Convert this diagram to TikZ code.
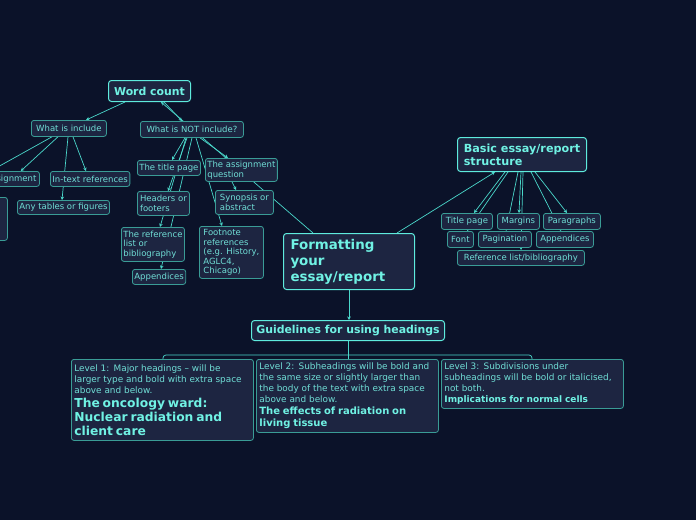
\documentclass[tikz,border=0pt]{standalone}
\usepackage{fontspec}
\setmainfont{DejaVu Sans}
\usetikzlibrary{arrows.meta}
\definecolor{bgc}{HTML}{0B1229}
\definecolor{fillc}{HTML}{1D2541}
\definecolor{brd}{HTML}{3A9C96}
\definecolor{brdh}{HTML}{5EEBDD}
\definecolor{txt}{HTML}{70DED6}
\definecolor{txth}{HTML}{70F2E4}
\definecolor{lnc}{HTML}{4BD8CB}
\pgfdeclarelayer{back}
\pgfdeclarelayer{bg}
\pgfsetlayers{back,bg,main}
\begin{document}
\begin{tikzpicture}[x=1pt,y=-1pt,
 box/.style={anchor=north west, draw=brd, fill=fillc, rounded corners=2.5pt, line width=0.8pt, text=txt, inner xsep=2pt, inner ysep=1pt, align=left, font=\fontsize{8.5}{9.5}\selectfont},
 mainbox/.style={box, draw=brdh, line width=1pt, text=txth, font=\fontsize{10.9}{13}\selectfont\bfseries, rounded corners=3pt},
 lvbox/.style={box, inner xsep=3pt, inner ysep=3pt, text width=176pt},
 conn/.style={draw=lnc, line width=0.7pt, -{Stealth[length=3.5pt,width=3.5pt]}},
 plainln/.style={draw=lnc, line width=0.7pt},
]
\begin{pgfonlayer}{back}
\fill[bgc] (0,0) rectangle (696,520);
\end{pgfonlayer}
\useasboundingbox (0,0) rectangle (696,520);

% left tree
\node[mainbox, minimum width=82pt, minimum height=21pt, align=center] (wc) at (108,80) {Word count};
\node[box, minimum width=75pt, minimum height=16pt] (wi) at (31,120) {What is include};
\node[box, minimum width=103pt, minimum height=16pt] (wni) at (140,121) {What is NOT include?};
\node[box, minimum width=74pt, minimum height=15pt] (asg) at (-35,171) {The assignment};
\node[box, minimum width=127pt, minimum height=43pt] (lb) at (-120,197) {};
\node[box, minimum width=78pt, minimum height=15pt] (itr) at (50,171) {In-text references};
\node[box, minimum width=89pt, minimum height=14pt] (atf) at (17,200) {Any tables or figures};
\node[box, minimum width=61pt, minimum height=15pt] (ttp) at (137,160) {The title page};
\node[box, minimum width=70pt, minimum height=23pt] (taq) at (205,158) {The assignment\\question};
\node[box, minimum width=52pt, minimum height=24pt] (hof) at (137,191) {Headers or\\footers};
\node[box, minimum width=58pt, minimum height=24pt] (soa) at (215,190) {Synopsis or\\abstract};
\node[box, minimum width=63pt, minimum height=34pt] (trl) at (121,227) {The reference\\list or\\bibliography};
\node[box, minimum width=64pt, minimum height=52pt] (fnr) at (199,226) {Footnote\\references\\(e.g. History,\\AGLC4,\\Chicago)};
\node[box, minimum width=52pt, minimum height=15pt] (app1) at (132,269) {Appendices};

% centre
\node[mainbox, text width=117pt, inner xsep=7pt, minimum height=56pt, font=\fontsize{13.4}{16}\selectfont\bfseries] (fmt) at (283,233) {Formatting\\your\\essay/report};

% right tree
\node[mainbox, minimum width=129pt, minimum height=34pt, font=\fontsize{11.2}{13}\selectfont\bfseries] (bes) at (457,137) {Basic essay/report\\structure};
\node[box, minimum width=51pt, minimum height=16pt] (tp) at (441,213) {Title page};
\node[box, minimum width=42pt, minimum height=16pt] (mar) at (497,213) {Margins};
\node[box, minimum width=57pt, minimum height=16pt] (par) at (543,213) {Paragraphs};
\node[box, minimum width=26pt, minimum height=16pt] (fnt) at (447,231) {Font};
\node[box, minimum width=53pt, minimum height=16pt] (pag) at (478,231) {Pagination};
\node[box, minimum width=57pt, minimum height=16pt] (app2) at (536,231) {Appendices};
\node[box, minimum width=127pt, minimum height=15pt] (rlb) at (457,250) {Reference list/bibliography};

% headings
\node[mainbox, minimum width=193pt, minimum height=20pt, font=\fontsize{10.9}{12}\selectfont\bfseries] (gfh) at (251,320) {Guidelines for using headings};
\node[lvbox, minimum height=81pt] (l1) at (71,359) {{\fontsize{8.9}{11}\selectfont Level 1: Major headings -- will be\\larger type and bold with extra space\\above and below.\par}{\color{txth}\fontsize{12.3}{14}\selectfont\bfseries The oncology ward:\\Nuclear radiation and\\client care\par}};
\node[lvbox, minimum height=73pt] (l2) at (256,359) {{\fontsize{8.9}{11}\selectfont Level 2: Subheadings will be bold and\\the same size or slightly larger than\\the body of the text with extra space\\above and below.\par}{\color{txth}\fontsize{10}{12}\selectfont\bfseries The effects of radiation on\\living tissue\par}};
\node[lvbox, minimum height=49pt] (l3) at (441,359) {{\fontsize{8.9}{11}\selectfont Level 3: Subdivisions under\\subheadings will be bold or italicised,\\not both.\par}{\color{txth}\fontsize{9}{11}\selectfont\bfseries Implications for normal cells\par}};

\begin{pgfonlayer}{bg}
\draw[conn] ([xshift=17pt]wc.south west) -- ([xshift=55pt]wi.north west);
\draw[conn] ([xshift=56pt]wc.south west) -- ([xshift=42pt]wni.north west);
\draw[conn] ([xshift=30pt]fmt.north west) -- ([xshift=53pt]wc.south west);
\draw[conn] ([xshift=21pt]wi.south west) -- (lb.north);
\draw[conn] ([xshift=27pt]wi.south west) -- ([xshift=-19pt]asg.north east);
\draw[conn] ([xshift=37pt]wi.south west) -- ([xshift=45pt]atf.north west);
\draw[conn] ([xshift=42pt]wi.south west) -- ([xshift=36pt]itr.north west);
\draw[conn] ([xshift=45pt]wni.south west) -- ([xshift=35pt]ttp.north west);
\draw[conn] ([xshift=47pt]wni.south west) -- ([xshift=31pt]hof.north west);
\draw[conn] ([xshift=46pt]wni.south west) -- ([xshift=39pt]trl.north west);
\draw[conn] ([xshift=52pt]wni.south west) -- ([xshift=29pt]app1.north west);
\draw[conn] ([xshift=56pt]wni.south west) -- ([xshift=23pt]fnr.north west);
\draw[conn] ([xshift=60pt]wni.south west) -- ([xshift=23pt]taq.north west);
\draw[conn] ([xshift=27pt]taq.south west) -- ([xshift=21pt]soa.north west);
\draw[conn] ([xshift=114pt]fmt.north west) -- ([xshift=38pt]bes.south west);
\draw[conn] (fmt.south) -- (fmt.south |- gfh.north);
\draw[conn] ([xshift=48pt]bes.south west) -- ([xshift=33pt]tp.north west);
\draw[conn] ([xshift=51pt]bes.south west) -- ([xshift=20pt]fnt.north west);
\draw[conn] ([xshift=64pt]bes.south west) -- ([xshift=22pt]mar.north west);
\draw[conn] ([xshift=61pt]bes.south west) -- ([xshift=28pt]pag.north west);
\draw[conn] ([xshift=66pt]bes.south west) -- ([xshift=64pt]rlb.north west);
\draw[conn] ([xshift=78pt]bes.south west) -- ([xshift=24pt]par.north west);
\draw[conn] ([xshift=74pt]bes.south west) -- ([xshift=25pt]app2.north west);
\draw[plainln] (gfh.south) -- (gfh.south |- l2.north);
\draw[plainln, rounded corners=3pt] ([xshift=92pt]l1.north west) -- ++(0,-4) -| ([xshift=91pt]l3.north west);
\end{pgfonlayer}
\end{tikzpicture}
\end{document}
